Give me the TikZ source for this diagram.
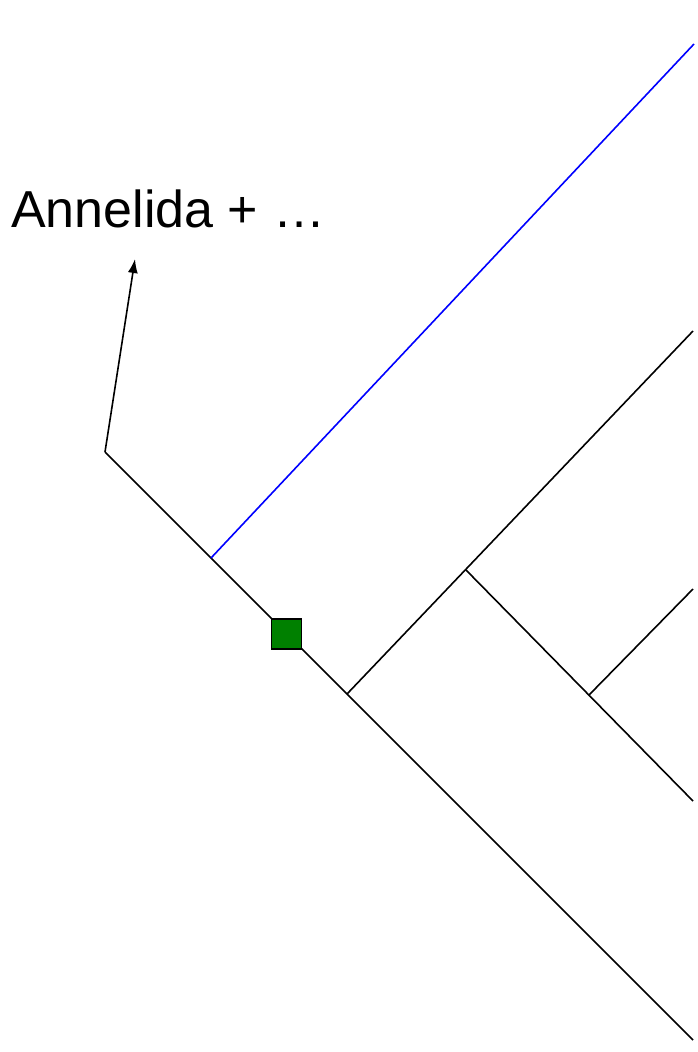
\documentclass[tikz,border=0pt]{standalone}
\usepackage{fontspec}
\setmainfont{Liberation Sans}
\usetikzlibrary{arrows.meta}
\begin{document}
\begin{tikzpicture}[x=1pt,y=-1pt,
  branch/.style={line width=1.6pt,black},
  bluebranch/.style={line width=1.6pt,blue},
  pointer/.style={line width=1.6pt,-{Latex[length=14pt,width=10pt]}},
  marker/.style={draw=black,line width=1.6pt,fill=green!50!black,minimum size=30pt,inner sep=0pt}]
\useasboundingbox (0,0) rectangle (698,1052);
\node[anchor=base west,inner sep=0pt,font=\fontsize{52}{60}\selectfont] (ann) at (11,227) {Annelida +\hspace{0.3em}…};
\coordinate (root) at (105,452);
\coordinate (tipA) at (135,259);
\coordinate (nBlue) at (211,558);
\coordinate (blueEnd) at (694,44);
\coordinate (n2) at (347,694);
\coordinate (end2) at (693,331);
\coordinate (n3) at (466,570);
\coordinate (end3) at (693,801);
\coordinate (n4) at (589,695);
\coordinate (end4) at (693,589);
\coordinate (endMain) at (693,1040);
\draw[branch] (root) -- (endMain);
\draw[pointer] (root) -- (tipA);
\draw[bluebranch] (nBlue) -- (blueEnd);
\draw[branch] (n2) -- (end2);
\draw[branch] (n3) -- (end3);
\draw[branch] (n4) -- (end4);
\node[marker] (syn) at (286.5,634) {};
\end{tikzpicture}
\end{document}
